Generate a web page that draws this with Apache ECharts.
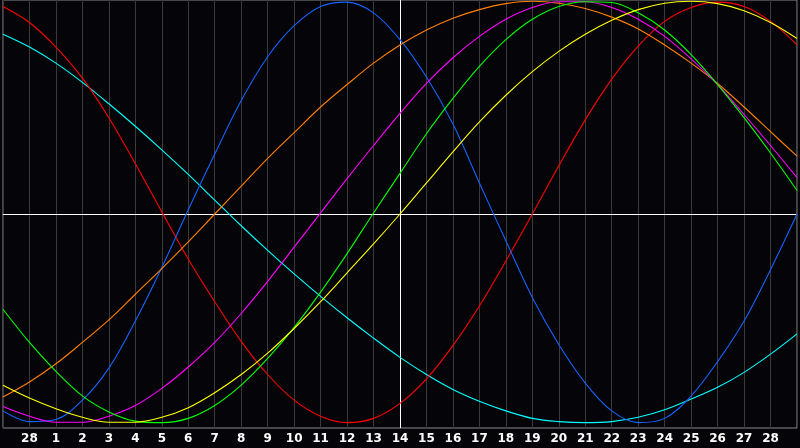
<!DOCTYPE html>
<html>
<head>
<meta charset="utf-8">
<script src="https://cdn.jsdelivr.net/npm/echarts@6/dist/echarts.min.js"></script>
<style>
html,body{margin:0;padding:0;background:#050409;}
#chart{width:800px;height:448px;}
</style>
</head>
<body>
<div id="chart"></div>
<script>
// Day labels (first and last positions are unlabeled edges)
const dayLabels = ['27','28','1','2','3','4','5','6','7','8','9','10','11','12','13','14','15','16','17','18','19','20','21','22','23','24','25','26','27','28','1'];

// Series values in percent (-100..100), one per day position
const red     = [97,89.5,78,63.5,45,23.5,1,-21,-41,-59.5,-75,-87,-94.5,-97.5,-95.5,-88.5,-77,-61.5,-43,-22,0,22.5,44,63,78.5,90,96.5,99,97,90,79];
const cyan    = [84,78,70.5,61.5,51.5,41,30,18.5,6.5,-5.5,-17,-28,-38.5,-48.5,-58,-67,-75,-82,-87.5,-92,-95.5,-97,-97.5,-97,-95,-91.5,-86.5,-81,-74,-65.5,-56];
const blue    = [-92,-97,-96,-87,-72,-50,-25,2,28,53,73.5,88,97,99,94,81.5,64,42,14.5,-12.5,-39,-61,-79,-92,-97.5,-95.5,-85,-69,-50,-26,0];
const orange  = [-85.5,-78.5,-70,-60,-49.5,-37.5,-25.5,-13,0,13,26,38,50,60.5,70.5,79,86,91.5,95.5,98.3,99.4,98.5,96,92,86.5,79,70.5,61,50,38.5,27];
const magenta = [-90,-94.5,-97.3,-97.3,-94.5,-89.5,-81.5,-71.5,-60,-46.5,-31.5,-15.5,0.5,16.5,32,47,61,73,83,91,96.5,99.2,99.2,96.5,91,83,72.5,60.5,46.5,32,17];
const green   = [-44.5,-60,-73.5,-85,-92.5,-96.8,-97.5,-95.5,-89.5,-80,-67.5,-53,-36.5,-18.5,0.5,19,37.5,54,69,81.5,91,97,99.2,98.8,94,86,74.5,60.5,45,28.5,11];
const yellow  = [-80,-86,-91,-95,-97.3,-97.3,-95,-90.5,-83.5,-75,-65,-53.5,-41,-27.5,-14,0,14.5,29,43,55.5,66.5,76,84,90.5,95.5,98.5,99.4,98.3,95,89.5,82];

const todayIndex = 15;

const chart = echarts.init(document.getElementById('chart'), null, {renderer:'canvas'});

function line(name, data, color, extra) {
  return Object.assign({
    name: name,
    type: 'line',
    data: data,
    smooth: 0.35,
    symbol: 'none',
    showSymbol: false,
    lineStyle: {color: color, width: 1.1},
    itemStyle: {color: color},
    z: 3
  }, extra || {});
}

chart.setOption({
  animation: false,
  backgroundColor: '#050409',
  grid: {left: 0, right: 0, top: 0, bottom: 20, show: true, borderColor: '#8c8c8c', borderWidth: 1, backgroundColor: 'transparent'},
  xAxis: {
    type: 'category',
    data: dayLabels,
    boundaryGap: false,
    axisLine: {show: true, lineStyle: {color: '#8c8c8c', width: 1}},
    axisTick: {show: false},
    axisLabel: {
      interval: 0,
      margin: 5,
      color: '#ffffff',
      fontFamily: 'DejaVu Sans',
      fontWeight: 'bold',
      fontSize: 12,
      formatter: function (v, i) { return (i === 0 || i === dayLabels.length - 1) ? '' : v; }
    },
    splitLine: {show: true, interval: 0, lineStyle: {color: '#3a3a3a', width: 1}}
  },
  yAxis: {
    type: 'value',
    min: -100,
    max: 100,
    show: false,
    splitLine: {show: false}
  },
  series: [
    line('cyan', cyan, '#00ffff', {
      markLine: {
        silent: true,
        symbol: ['none','none'],
        label: {show: false},
        lineStyle: {color: '#ffffff', width: 1, type: 'solid'},
        data: [{yAxis: 0}, {xAxis: todayIndex}],
        z: 2
      }
    }),
    line('red', red, '#ff0000'),
    line('blue', blue, '#1464ff'),
    line('orange', orange, '#ff8000'),
    line('magenta', magenta, '#ff00ff'),
    line('green', green, '#00ff00'),
    line('yellow', yellow, '#ffff00')
  ]
});
</script>
</body>
</html>
